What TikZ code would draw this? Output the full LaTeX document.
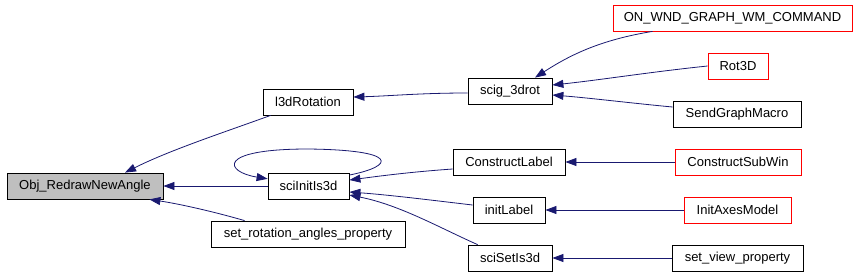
\documentclass[tikz,border=0pt]{standalone}
\usepackage{fontspec}
\setmainfont{Liberation Sans}
\usepackage{xcolor}
\usepackage{tikz}
\usetikzlibrary{arrows.meta,positioning}
\definecolor{edgeblue}{HTML}{191970}
\definecolor{extred}{HTML}{FF0000}
\definecolor{rootgray}{HTML}{BFBFBF}
\tikzset{
  fnbox/.style={draw=black,line width=0.8pt,minimum height=26pt,inner sep=0pt,font=\fontsize{13}{15}\selectfont},
  extbox/.style={fnbox,draw=extred},
  rootbox/.style={fnbox,fill=rootgray},
  calledge/.style={-{Triangle[length=11pt,width=8pt]},edgeblue,line width=0.8pt}
}
\begin{document}
\begin{tikzpicture}[x=1pt,y=-1pt]
\useasboundingbox (0,0) rectangle (866,274);
% column 1
\node[rootbox,minimum width=156pt] (obj) at (85,186) {Obj\_RedrawNewAngle};
% column 2
\node[fnbox,minimum width=90pt] (l3d) at (308,102) {l3dRotation};
\node[fnbox,minimum width=81pt] (initis) at (308.5,186) {sciInitIs3d};
\node[fnbox,minimum width=194pt] (setrot) at (308,234) {set\_rotation\_angles\_property};
% column 3
\node[fnbox,minimum width=84pt] (scig) at (510,91) {scig\_3drot};
\node[fnbox,minimum width=112pt] (conlabel) at (509,162) {ConstructLabel};
\node[fnbox,minimum width=72pt] (initlabel) at (509,210) {initLabel};
\node[fnbox,minimum width=84pt] (setis) at (510,258) {sciSetIs3d};
% column 4
\node[extbox,minimum width=239pt] (onwnd) at (732.5,18) {ON\_WND\_GRAPH\_WM\_COMMAND};
\node[extbox,minimum width=60pt] (rot) at (738,66) {Rot3D};
\node[fnbox,minimum width=128pt] (sendgm) at (737,114) {SendGraphMacro};
\node[extbox,minimum width=126pt] (consub) at (738,162) {ConstructSubWin};
\node[extbox,minimum width=107pt] (initaxes) at (737.5,210) {InitAxesModel};
\node[fnbox,minimum width=131pt] (setview) at (737.5,258) {set\_view\_property};
% calls into Obj_RedrawNewAngle
\draw[calledge] ([xshift=8pt]l3d.south west) .. controls (225,132) and (170,150) .. ([xshift=40pt]obj.north);
\draw[calledge] (initis.west) -- (obj.east);
\draw[calledge] ([xshift=34pt]setrot.north west) .. controls (215,212) and (180,204) .. ([xshift=-14pt]obj.south east);
% self call
\draw[calledge] (initis.15) .. controls (395,166) and (400,150) .. (308,149) .. controls (215,149) and (225,172) .. (initis.170);
% calls into column 2
\draw[calledge] ([yshift=-2pt]scig.west) .. controls (420,93) and (390,96) .. ([yshift=5pt]l3d.east);
\draw[calledge] ([yshift=-7pt]conlabel.west) .. controls (410,172) and (380,176) .. ([yshift=6pt]initis.east);
\draw[calledge] ([yshift=5pt]initlabel.west) .. controls (430,200) and (390,195) .. ([yshift=-6pt]initis.east);
\draw[calledge] ([xshift=10pt]setis.north west) .. controls (440,228) and (400,205) .. ([yshift=-9pt]initis.east);
% calls into column 3
\draw[calledge] ([xshift=-80pt]onwnd.south) .. controls (600,40) and (570,55) .. ([xshift=25pt]scig.north);
\draw[calledge] (rot.west) .. controls (650,72) and (600,80) .. ([yshift=6pt]scig.east);
\draw[calledge] ([yshift=7pt]sendgm.west) .. controls (630,103) and (590,98) .. ([yshift=-4pt]scig.east);
\draw[calledge] (consub.west) -- (conlabel.east);
\draw[calledge] (initaxes.west) -- (initlabel.east);
\draw[calledge] (setview.west) -- (setis.east);
\end{tikzpicture}
\end{document}
